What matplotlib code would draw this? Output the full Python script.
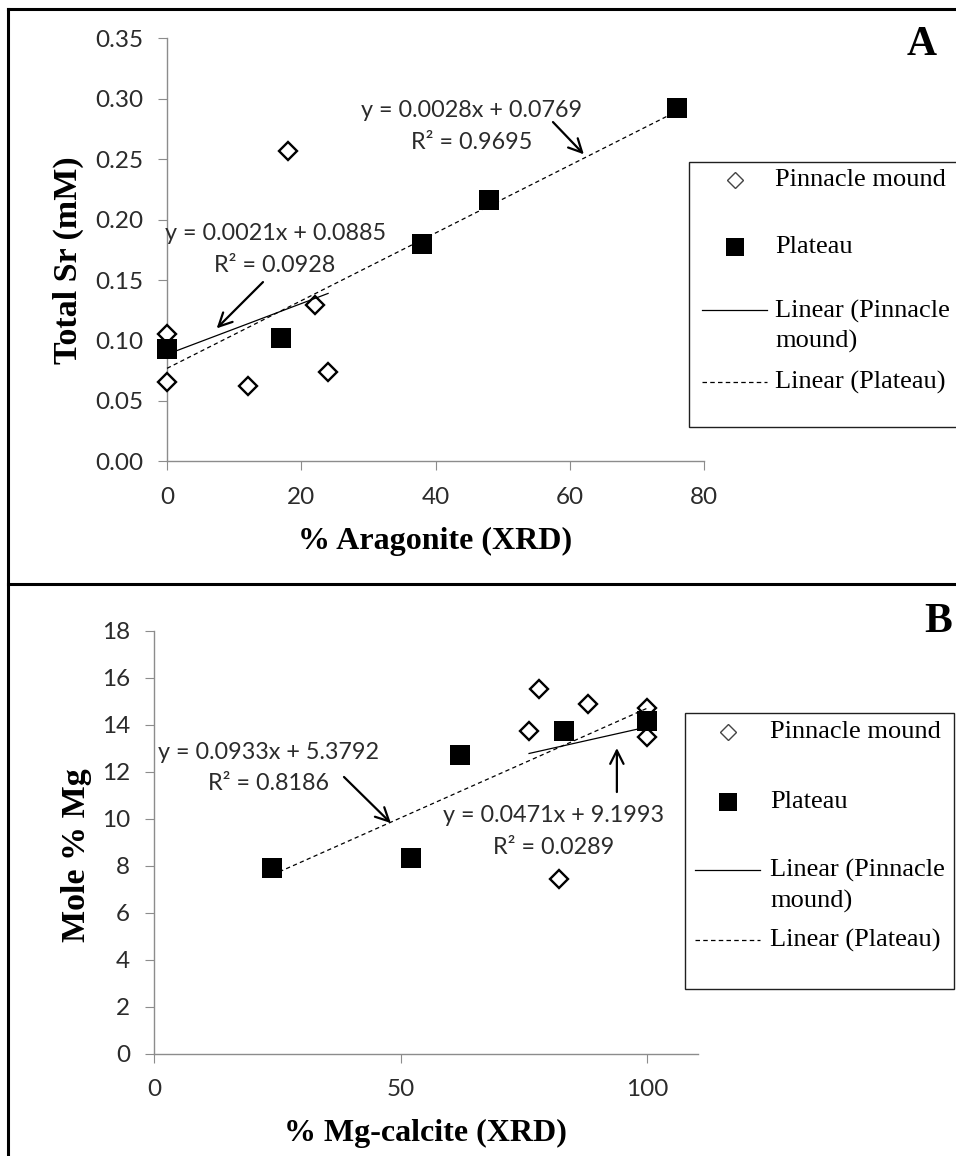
import numpy as np
import matplotlib
matplotlib.use("Agg")
import matplotlib.pyplot as plt
from matplotlib.patches import Rectangle
from matplotlib.lines import Line2D
from matplotlib.ticker import FormatStrFormatter

# ---------------- data ----------------
# Panel A: % aragonite (XRD) vs total Sr (mM)
a_pin_x = [0, 0, 12, 18, 22, 24]
a_pin_y = [0.105, 0.066, 0.062, 0.257, 0.129, 0.074]
a_plat_x = [0, 17, 38, 48, 76]
a_plat_y = [0.093, 0.102, 0.180, 0.216, 0.292]
a_pin_fit = (0.0021, 0.0885, 0.0928)    # slope, intercept, R^2
a_plat_fit = (0.0028, 0.0769, 0.9695)
a_xticks = [0, 20, 40, 60, 80]
a_yticks = [0.00, 0.05, 0.10, 0.15, 0.20, 0.25, 0.30, 0.35]

# Panel B: % Mg-calcite (XRD) vs mole % Mg
b_pin_x = [78, 88, 76, 100, 100, 82]
b_pin_y = [15.5, 14.9, 13.75, 14.7, 13.5, 7.45]
b_plat_x = [24, 52, 62, 83, 100]
b_plat_y = [7.9, 8.35, 12.7, 13.75, 14.15]
b_pin_fit = (0.0471, 9.1993, 0.0289)
b_plat_fit = (0.0933, 5.3792, 0.8186)
b_xticks = [0, 50, 100]
b_yticks = [0, 2, 4, 6, 8, 10, 12, 14, 16, 18]

series_names = ["Pinnacle mound", "Plateau"]
trend_names = ["Linear (Pinnacle\nmound)", "Linear (Plateau)"]

# ---------------- style ----------------
W, H, DPI = 956, 1156, 100
AXIS_GRAY = "#8c8c8c"
TICK_TXT = "#2b2b2b"
SERIF = ["Liberation Serif", "DejaVu Serif"]
plt.rcParams["font.family"] = ["Lato", "DejaVu Sans"]

fig = plt.figure(figsize=(W / DPI, H / DPI), dpi=DPI)


def fbox(l, t, r, b):
    return [l / W, 1 - b / H, (r - l) / W, (b - t) / H]


def style_axes(ax, xlim, ylim, xticks, yticks, yfmt):
    ax.set_xlim(*xlim)
    ax.set_ylim(*ylim)
    ax.set_xticks(xticks)
    ax.set_yticks(yticks)
    ax.yaxis.set_major_formatter(FormatStrFormatter(yfmt))
    ax.patch.set_alpha(0)
    for s in ("top", "right"):
        ax.spines[s].set_visible(False)
    for s in ("left", "bottom"):
        ax.spines[s].set_color(AXIS_GRAY)
        ax.spines[s].set_linewidth(1.0)
    ax.tick_params(direction="out", length=6.2, width=0.8, color=AXIS_GRAY,
                   labelsize=17.5, labelcolor=TICK_TXT)
    ax.tick_params(axis="y", pad=11)
    ax.tick_params(axis="x", pad=12)


def draw_panel(ax, pin_x, pin_y, plat_x, plat_y, pin_fit, plat_fit):
    ax.plot(pin_x, pin_y, ls="none", marker="D", ms=9.6, mfc="white",
            mec="black", mew=1.7, clip_on=False, zorder=3)
    ax.plot(plat_x, plat_y, ls="none", marker="s", ms=14.5, mfc="black",
            mec="black", mew=0, clip_on=False, zorder=4)
    xs = np.array([min(pin_x), max(pin_x)], dtype=float)
    ax.plot(xs, pin_fit[0] * xs + pin_fit[1], color="black", lw=0.9,
            zorder=5, clip_on=False)
    xs = np.array([min(plat_x), max(plat_x)], dtype=float)
    ax.plot(xs, plat_fit[0] * xs + plat_fit[1], color="black", lw=0.9,
            ls=(0, (3.4, 2.6)), zorder=5, clip_on=False)


def equation(ax, fit, x, y1, y2):
    ax.text(x, y1, f"y = {fit[0]:.4f}x + {fit[1]:.4f}", ha="center",
            va="center", fontsize=16.8, color=TICK_TXT, zorder=6)
    ax.text(x, y2, f"R\u00b2 = {fit[2]:.4f}", ha="center", va="center",
            fontsize=16.8, color=TICK_TXT, zorder=6)


def arrow(ax, tail, tip):
    ax.annotate("", xy=tip, xytext=tail,
                arrowprops=dict(arrowstyle="->", lw=1.6, color="black",
                                mutation_scale=24, shrinkA=0, shrinkB=0),
                zorder=6)


XLAB = dict(fontfamily=SERIF, fontweight="bold", fontsize=23, color="black")
YLAB = dict(fontfamily=SERIF, fontweight="bold", fontsize=24.5, color="black")

# ---------------- panel A ----------------
axA = fig.add_axes(fbox(167, 38.3, 704, 461.3))
style_axes(axA, (0, 80), (0, 0.35), a_xticks, a_yticks, "%.2f")
draw_panel(axA, a_pin_x, a_pin_y, a_plat_x, a_plat_y, a_pin_fit, a_plat_fit)
equation(axA, a_plat_fit, 45.4, 0.2905, 0.2641)
arrow(axA, (57.5, 0.2807), (62.1, 0.2540))
equation(axA, a_pin_fit, 16.1, 0.1889, 0.1616)
arrow(axA, (14.3, 0.1483), (7.4, 0.1100))
axA.set_xlabel("% Aragonite (XRD)", **XLAB)
axA.set_ylabel("Total Sr (mM)", **YLAB)
axA.xaxis.set_label_coords(0.5, -0.19)
axA.yaxis.set_label_coords(-0.184, 0.476)
axA.xaxis.label.set_va("center")
axA.yaxis.label.set_va("center")

# ---------------- panel B ----------------
axB = fig.add_axes(fbox(154, 630.7, 698.3, 1054))
style_axes(axB, (0, 110.3), (0, 18), b_xticks, b_yticks, "%d")
draw_panel(axB, b_pin_x, b_pin_y, b_plat_x, b_plat_y, b_pin_fit, b_plat_fit)
equation(axB, b_plat_fit, 23.3, 12.84, 11.52)
arrow(axB, (38.5, 11.78), (48.0, 9.82))
equation(axB, b_pin_fit, 81.0, 10.16, 8.80)
arrow(axB, (93.8, 11.14), (93.8, 13.01))
axB.set_xlabel("% Mg-calcite (XRD)", **XLAB)
axB.set_ylabel("Mole % Mg", **YLAB)
axB.xaxis.set_label_coords(0.498, -0.187)
axB.yaxis.set_label_coords(-0.143, 0.47)
axB.xaxis.label.set_va("center")
axB.yaxis.label.set_va("center")

# ---------------- frame, legends, panel letters (pixel overlay) ----------------
ov = fig.add_axes([0, 0, 1, 1], zorder=10)
ov.set_xlim(0, W)
ov.set_ylim(H, 0)
ov.axis("off")
ov.patch.set_alpha(0)

for xs, ys in (([8.5, 8.5], [8.5, H]), ([8.5, W], [8.5, 8.5]), ([8.5, W], [584, 584])):
    ov.add_line(Line2D(xs, ys, color="black", lw=2.2, solid_capstyle="projecting"))


def draw_legend(left, top, right, bottom, mx, lx0, lx1, tx, ys):
    ov.add_patch(Rectangle((left, top), right - left, bottom - top,
                           fc="white", ec="#202020", lw=1.0))
    ov.plot([mx], [ys[0]], marker="D", ms=8.2, mfc="white", mec="#444444", mew=1.0)
    ov.plot([mx], [ys[1]], marker="s", ms=12.5, mfc="black", mec="black", mew=0)
    ov.plot([lx0, lx1], [ys[2], ys[2]], color="black", lw=0.9)
    ov.plot([lx0, lx1], [ys[4], ys[4]], color="black", lw=0.9, ls=(0, (3.6, 2.6)))
    kw = dict(ha="left", va="center", fontfamily=SERIF, fontsize=19, color="black")
    ov.text(tx, ys[0], series_names[0], **kw)
    ov.text(tx, ys[1], series_names[1], **kw)
    ov.text(tx, (ys[2] + ys[3]) / 2, trend_names[0], linespacing=1.42, **kw)
    ov.text(tx, ys[4], trend_names[1], **kw)


draw_legend(689, 162, 975, 427, 735, 702, 767, 775, [180, 247, 310, 343, 382])
draw_legend(685, 713, 954, 989, 728, 695, 760, 770, [732, 802, 870, 902, 940])

ov.text(922, 45, "A", ha="center", va="center", fontfamily=SERIF,
        fontweight="bold", fontsize=30)
ov.text(938, 622, "B", ha="center", va="center", fontfamily=SERIF,
        fontweight="bold", fontsize=30)

fig.savefig("out.png", dpi=DPI, facecolor="white")
